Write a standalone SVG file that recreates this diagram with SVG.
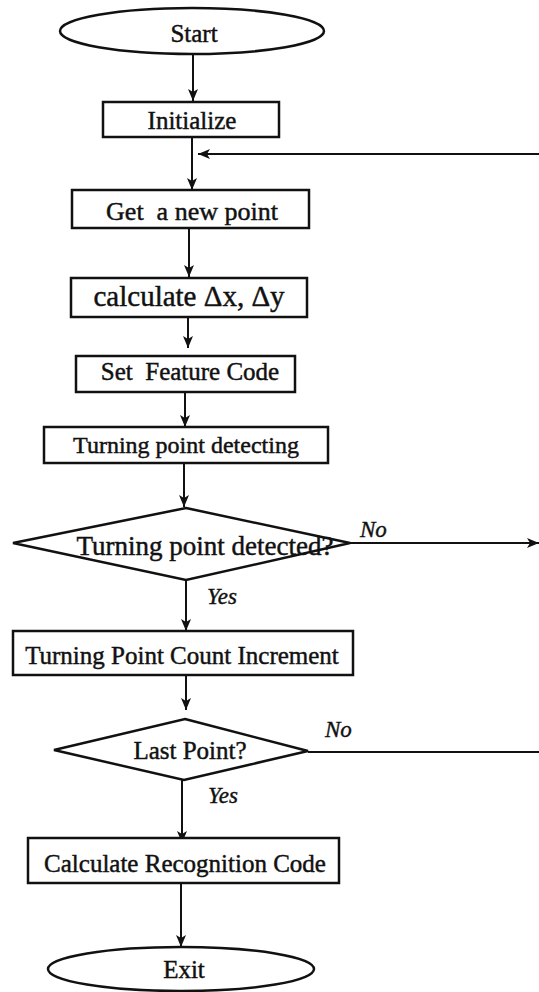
<svg xmlns="http://www.w3.org/2000/svg" width="539" height="992" viewBox="0 0 539 992">
  <style>
    .shape { fill: #fff; stroke: #111; stroke-width: 2.5; }
    .lbl { font-family: "Liberation Serif", "Times New Roman", serif; fill: #111; stroke: #111; stroke-width: 0.45; text-anchor: middle; }
    .yn { font-family: "Liberation Serif", "Times New Roman", serif; font-style: italic; fill: #111; stroke: #111; stroke-width: 0.4; font-size: 23px; }
    .wire { fill: none; stroke: #111; stroke-width: 2; }
  </style>
  <defs>
    <marker id="arrow" viewBox="0 0 12 14" refX="12" refY="7" markerWidth="12" markerHeight="14" markerUnits="userSpaceOnUse" orient="auto">
      <path d="M0,2 L12,7 L0,12 L3,7 Z" fill="#111"/>
    </marker>
  </defs>
  <rect width="539" height="992" fill="#fff"/>

  <!-- connectors -->
  <g id="connectors" class="wire">
    <line x1="193" y1="54" x2="193" y2="101" marker-end="url(#arrow)"/>
    <line x1="192" y1="137" x2="192" y2="190" marker-end="url(#arrow)"/>
    <line x1="539" y1="154" x2="198" y2="154" marker-end="url(#arrow)"/>
    <line x1="189" y1="228" x2="189" y2="277" marker-end="url(#arrow)"/>
    <line x1="188" y1="317" x2="188" y2="348" marker-end="url(#arrow)"/>
    <line x1="185" y1="392" x2="185" y2="427" marker-end="url(#arrow)"/>
    <line x1="184" y1="463" x2="184" y2="507" marker-end="url(#arrow)"/>
    <line x1="350" y1="543" x2="539" y2="543" marker-end="url(#arrow)"/>
    <line x1="186" y1="580" x2="186" y2="631" marker-end="url(#arrow)"/>
    <line x1="186" y1="675" x2="186" y2="710" marker-end="url(#arrow)"/>
    <line x1="308" y1="752" x2="539" y2="752"/>
    <line x1="182" y1="780" x2="182" y2="843" marker-end="url(#arrow)"/>
    <line x1="181" y1="883" x2="181" y2="947" marker-end="url(#arrow)"/>
  </g>

  <!-- branch labels -->
  <g id="branch-labels">
    <text class="yn" x="360" y="537">No</text>
    <text class="yn" x="207" y="604">Yes</text>
    <text class="yn" x="325" y="737">No</text>
    <text class="yn" x="208" y="803">Yes</text>
  </g>

  <g id="start">
    <ellipse class="shape" cx="192" cy="31" rx="132" ry="23"/>
    <text class="lbl" x="194" y="42" font-size="25">Start</text>
  </g>

  <g id="initialize">
    <rect class="shape" x="103" y="102" width="176" height="35"/>
    <text class="lbl" x="192" y="129" font-size="25">Initialize</text>
  </g>

  <g id="get-point">
    <rect class="shape" x="72" y="190" width="237" height="38"/>
    <text class="lbl" x="192" y="220" font-size="26" xml:space="preserve">Get  a new point</text>
  </g>

  <g id="calc-delta">
    <rect class="shape" x="71" y="278" width="236" height="39"/>
    <text class="lbl" x="189" y="306" font-size="29">calculate Δx, Δy</text>
  </g>

  <g id="feature-code">
    <rect class="shape" x="76" y="356" width="219" height="36"/>
    <text class="lbl" x="190" y="380" font-size="25" xml:space="preserve">Set  Feature Code</text>
  </g>

  <g id="tp-detecting">
    <rect class="shape" x="44" y="427" width="284" height="36"/>
    <text class="lbl" x="186" y="453" font-size="24">Turning point detecting</text>
  </g>

  <g id="tp-detected">
    <polygon class="shape" points="186,508 350,543 186,580 13,543"/>
    <text class="lbl" x="205" y="555" font-size="27">Turning point detected?</text>
  </g>

  <g id="tp-count">
    <rect class="shape" x="13" y="631" width="340" height="44"/>
    <text class="lbl" x="182" y="664" font-size="25">Turning Point Count Increment</text>
  </g>

  <g id="last-point">
    <polygon class="shape" points="185,719 308,751 184,780 54,750"/>
    <text class="lbl" x="190" y="759" font-size="25">Last Point?</text>
  </g>

  <g id="recognition-code">
    <rect class="shape" x="28" y="838" width="311" height="45"/>
    <text class="lbl" x="185" y="872" font-size="25">Calculate Recognition Code</text>
  </g>

  <g id="exit">
    <ellipse class="shape" cx="181" cy="969" rx="133" ry="22"/>
    <text class="lbl" x="184" y="978" font-size="25">Exit</text>
  </g>
</svg>
